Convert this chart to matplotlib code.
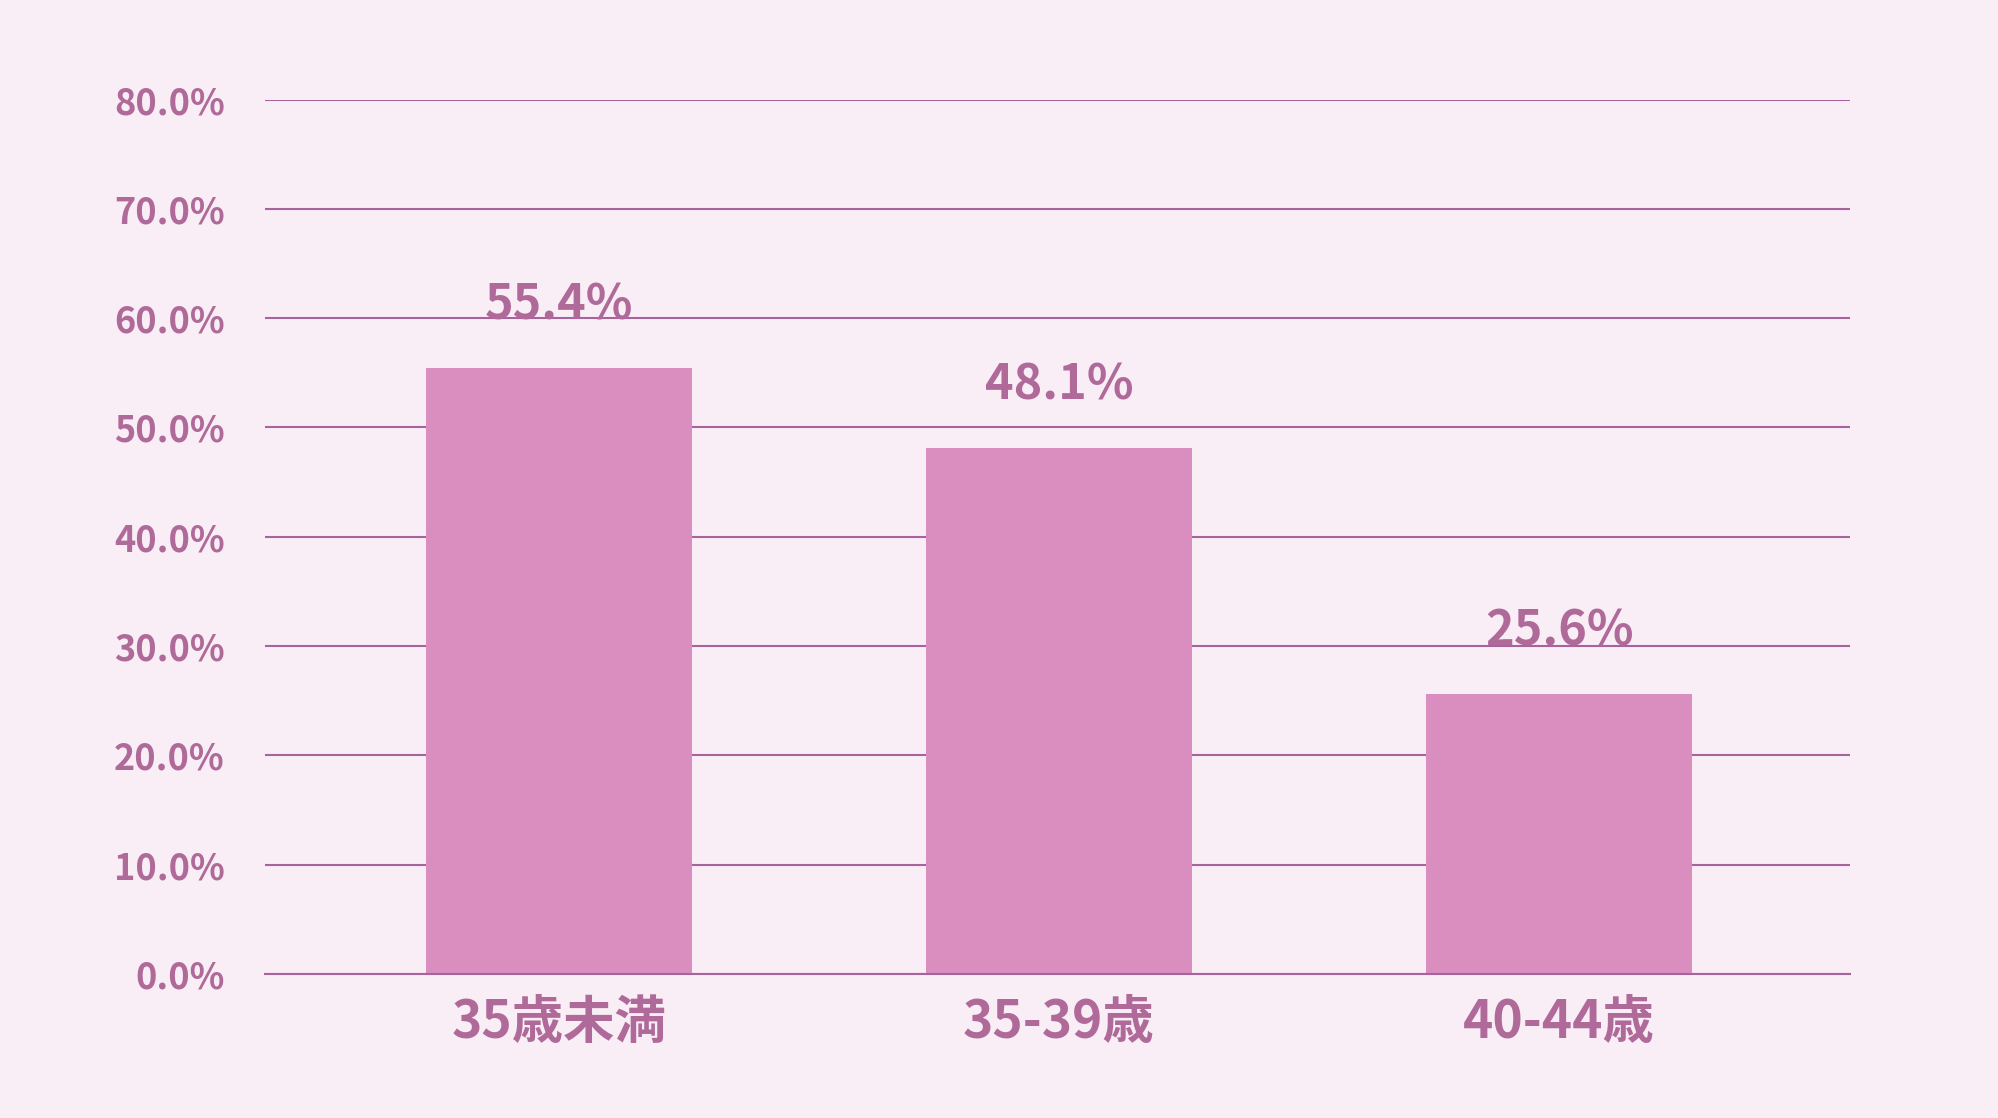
import matplotlib
matplotlib.use('Agg')
import matplotlib.pyplot as plt

# Data
categories = ['35歳未満', '35-39歳', '40-44歳']
values = [55.4, 48.1, 25.6]
y_ticks = [0, 10, 20, 30, 40, 50, 60, 70, 80]

bg_color = '#F9EEF6'
bar_color = '#D98EBF'
text_color = '#B06A9A'
line_color = '#A8649A'

plt.rcParams['font.family'] = ['Noto Sans CJK JP', 'DejaVu Sans']
plt.rcParams['font.weight'] = 'bold'

fig = plt.figure(figsize=(19.98, 11.18), dpi=100, facecolor=bg_color)
ax = fig.add_axes([0.1326, 0.1288, 0.926 - 0.1326, 0.911 - 0.1288])
ax.set_facecolor(bg_color)

x = list(range(len(categories)))
ax.bar(x, values, width=0.532, color=bar_color, zorder=2)

# value labels above the bars
for xi, v in zip(x, values):
    ax.annotate(f'{v:.1f}%', (xi, v), xytext=(0, 28), textcoords='offset points',
                ha='center', va='bottom', fontsize=35, fontweight='bold', color=text_color)

ax.set_xlim(-0.587, 2.582)
ax.set_ylim(0, 80)
ax.set_yticks(y_ticks)
ax.set_yticklabels([f'{t:.1f}%' for t in y_ticks])
ax.set_xticks(x)
ax.set_xticklabels(categories)

ax.grid(axis='y', color=line_color, linewidth=1.5, zorder=1)
ax.set_axisbelow(True)
for side in ['top', 'right', 'left']:
    ax.spines[side].set_visible(False)
ax.spines['bottom'].set_color(line_color)
ax.spines['bottom'].set_linewidth(1.5)
ax.spines['bottom'].set_zorder(3)

ax.tick_params(axis='y', length=0, pad=29, labelsize=26, labelcolor=text_color)
ax.tick_params(axis='x', length=0, pad=16, labelsize=37, labelcolor=text_color)
for lbl in ax.get_xticklabels() + ax.get_yticklabels():
    lbl.set_fontweight('bold')

fig.savefig('out.png', dpi=100, facecolor=bg_color)
